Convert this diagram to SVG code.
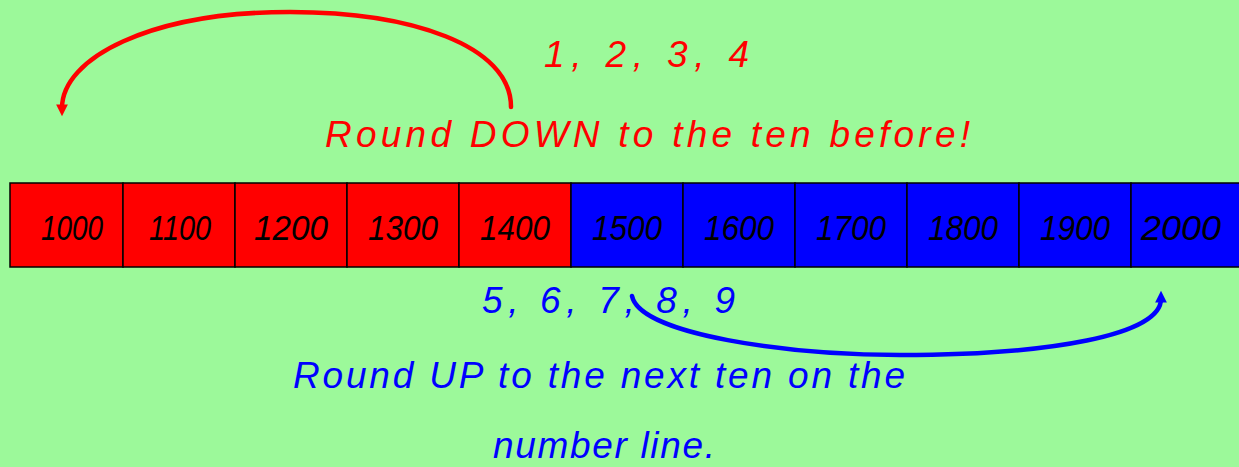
<svg xmlns="http://www.w3.org/2000/svg" width="1239" height="467" viewBox="0 0 1239 467">
<style>
.cell{stroke:#000;stroke-width:1.5}
.r{fill:#ff0000}
.b{fill:#0000ff}
.num{font-family:"Liberation Sans",sans-serif;font-style:italic;font-size:35px;fill:#000;text-anchor:middle}
.lbl{font-family:"Liberation Sans",sans-serif;font-style:italic;font-size:37px}
</style>
<defs>
<marker id="ar" viewBox="0 0 10 10" refX="3" refY="5" markerWidth="3" markerHeight="2.6" orient="auto" markerUnits="strokeWidth">
<path d="M0,0 L10,5 L0,10 z" fill="#ff0000"/>
</marker>
<marker id="ab" viewBox="0 0 10 10" refX="3" refY="5" markerWidth="3" markerHeight="2.6" orient="auto" markerUnits="strokeWidth">
<path d="M0,0 L10,5 L0,10 z" fill="#0000ff"/>
</marker>
</defs>
<rect width="1239" height="467" fill="#9cf99a"/>
<g id="cell-1000"><rect class="cell r" x="10" y="183" width="113" height="84"/><text class="num" x="72" y="240" textLength="62" lengthAdjust="spacingAndGlyphs">1000</text></g>
<g id="cell-1100"><rect class="cell r" x="123" y="183" width="112" height="84"/><text class="num" x="180" y="240" textLength="62" lengthAdjust="spacingAndGlyphs">1100</text></g>
<g id="cell-1200"><rect class="cell r" x="235" y="183" width="112" height="84"/><text class="num" x="291" y="240" textLength="74" lengthAdjust="spacingAndGlyphs">1200</text></g>
<g id="cell-1300"><rect class="cell r" x="347" y="183" width="112" height="84"/><text class="num" x="403" y="240" textLength="70" lengthAdjust="spacingAndGlyphs">1300</text></g>
<g id="cell-1400"><rect class="cell r" x="459" y="183" width="112" height="84"/><text class="num" x="515" y="240" textLength="70" lengthAdjust="spacingAndGlyphs">1400</text></g>
<g id="cell-1500"><rect class="cell b" x="571" y="183" width="112" height="84"/><text class="num" x="627" y="240" textLength="70" lengthAdjust="spacingAndGlyphs">1500</text></g>
<g id="cell-1600"><rect class="cell b" x="683" y="183" width="112" height="84"/><text class="num" x="739" y="240" textLength="70" lengthAdjust="spacingAndGlyphs">1600</text></g>
<g id="cell-1700"><rect class="cell b" x="795" y="183" width="112" height="84"/><text class="num" x="851" y="240" textLength="70" lengthAdjust="spacingAndGlyphs">1700</text></g>
<g id="cell-1800"><rect class="cell b" x="907" y="183" width="112" height="84"/><text class="num" x="963" y="240" textLength="70" lengthAdjust="spacingAndGlyphs">1800</text></g>
<g id="cell-1900"><rect class="cell b" x="1019" y="183" width="112" height="84"/><text class="num" x="1075" y="240" textLength="70" lengthAdjust="spacingAndGlyphs">1900</text></g>
<g id="cell-2000"><rect class="cell b" x="1131" y="183" width="112" height="84"/><text class="num" x="1181" y="240" textLength="80" lengthAdjust="spacingAndGlyphs">2000</text></g>
<g id="connectors" fill="none" stroke-width="4.5" stroke-linecap="round">
<path d="M511,107 C511,45 410,12 290,12 C150,12 62,58 62,108" stroke="#ff0000" marker-end="url(#ar)"/>
<path d="M632,296 C640,335 790,355 900,355 C1050,355 1161,335 1161,299" stroke="#0000ff" marker-end="url(#ab)"/>
</g>
<g id="labels">
<text class="lbl" x="544" y="67" fill="#ff0000" textLength="205" lengthAdjust="spacing">1, 2, 3, 4</text>
<text class="lbl" x="325" y="147" fill="#ff0000" textLength="645" lengthAdjust="spacing">Round DOWN to the ten before!</text>
<text class="lbl" x="482" y="313" fill="#0000ff" textLength="253" lengthAdjust="spacing">5, 6, 7, 8, 9</text>
<text class="lbl" x="293" y="388" fill="#0000ff" textLength="612" lengthAdjust="spacing">Round UP to the next ten on the</text>
<text class="lbl" x="493" y="458" fill="#0000ff" textLength="222" lengthAdjust="spacing">number line.</text>
</g>
</svg>
